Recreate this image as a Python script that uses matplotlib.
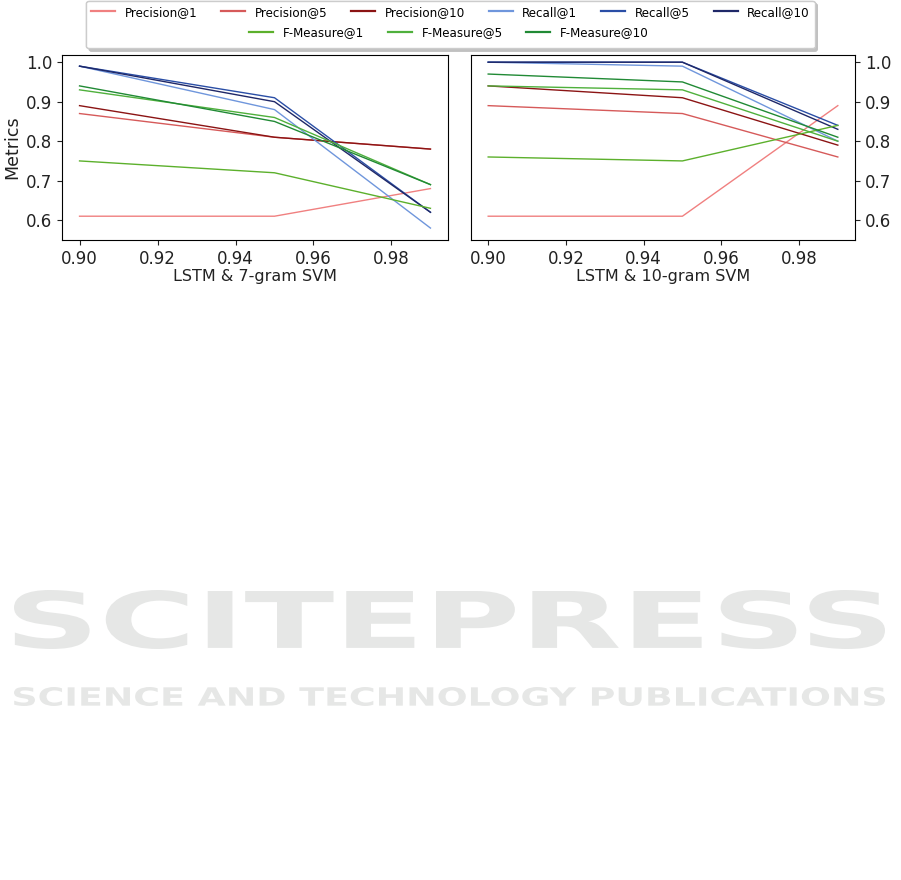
import matplotlib
matplotlib.use('Agg')
import matplotlib.pyplot as plt
from matplotlib.lines import Line2D
from matplotlib.textpath import TextPath
from matplotlib.patches import PathPatch
from matplotlib.font_manager import FontProperties
from matplotlib.transforms import Affine2D, IdentityTransform

# dados
thresholds = [0.90, 0.95, 0.99]
labels = ['Precision@1', 'Precision@5', 'Precision@10',
          'Recall@1', 'Recall@5', 'Recall@10',
          'F-Measure@1', 'F-Measure@5', 'F-Measure@10']
colors = ['#f08080', '#d65a5a', '#8b1414',
          '#6f96dc', '#2a4ea6', '#1f2868',
          '#5cb02c', '#4fb03c', '#218a35']

# LSTM & 7-gram SVM
svm7 = {
    'Precision@1': [0.61, 0.61, 0.68],
    'Precision@5': [0.87, 0.81, 0.78],
    'Precision@10': [0.89, 0.81, 0.78],
    'Recall@1': [0.99, 0.88, 0.58],
    'Recall@5': [0.99, 0.91, 0.62],
    'Recall@10': [0.99, 0.90, 0.62],
    'F-Measure@1': [0.75, 0.72, 0.63],
    'F-Measure@5': [0.93, 0.86, 0.69],
    'F-Measure@10': [0.94, 0.85, 0.69],
}

# LSTM & 10-gram SVM
svm10 = {
    'Precision@1': [0.61, 0.61, 0.89],
    'Precision@5': [0.89, 0.87, 0.76],
    'Precision@10': [0.94, 0.91, 0.79],
    'Recall@1': [1.00, 0.99, 0.80],
    'Recall@5': [1.00, 1.00, 0.84],
    'Recall@10': [1.00, 1.00, 0.83],
    'F-Measure@1': [0.76, 0.75, 0.84],
    'F-Measure@5': [0.94, 0.93, 0.80],
    'F-Measure@10': [0.97, 0.95, 0.81],
}

W, H = 901, 880
fig = plt.figure(figsize=(W / 100, H / 100), dpi=100)

ax1 = fig.add_axes([62 / W, 1 - 240.3 / H, 386 / W, 185.6 / H])
ax2 = fig.add_axes([470.7 / W, 1 - 240.3 / H, 384.6 / W, 185.6 / H])

for lab, col in zip(labels, colors):
    ax1.plot(thresholds, svm7[lab], color=col, linewidth=1.0, label=lab)
    ax2.plot(thresholds, svm10[lab], color=col, linewidth=1.0, label=lab)

for ax in (ax1, ax2):
    ax.set_ylim(0.549, 1.019)
    ax.set_yticks([0.6, 0.7, 0.8, 0.9, 1.0])
    ax.set_xticks([0.90, 0.92, 0.94, 0.96, 0.98])
    ax.tick_params(labelsize=12, colors='#222222')

ax1.set_xlabel('LSTM & 7-gram SVM', fontsize=11.5, labelpad=1, color='#222222')
ax2.set_xlabel('LSTM & 10-gram SVM', fontsize=11.5, labelpad=1, color='#222222')
ax1.set_ylabel('Metrics', fontsize=12.5, labelpad=3, color='#222222')
ax2.yaxis.tick_right()

# legenda: primeira linha com moldura, segunda linha centralizada por cima
handles = [Line2D([], [], color=c, linewidth=1.6) for c in colors]
blank = Line2D([], [], color='none')
order_h = [handles[0], blank, handles[1], blank, handles[2], blank,
           handles[3], handles[4], handles[5]]
order_l = [labels[0], ' ', labels[1], ' ', labels[2], ' ',
           labels[3], labels[4], labels[5]]
leg1 = fig.legend(order_h, order_l, ncol=6, loc='upper center',
                  bbox_to_anchor=(0.5, 0.999), fontsize=8.6, frameon=True,
                  fancybox=True, borderaxespad=0, labelspacing=1.0,
                  shadow={'color': '#c0c0c0', 'alpha': 0.8})
leg1.get_frame().set_edgecolor('#cccccc')
leg2 = fig.legend(handles[6:], labels[6:], ncol=3, loc='center',
                  bbox_to_anchor=(449 / W, 1 - 33 / H), fontsize=8.6,
                  frameon=False, borderaxespad=0)
fig.add_artist(leg1)

# marca d'agua
def watermark(text, x0, x1, ytop, ybot):
    tp = TextPath((0, 0), text, size=100,
                  prop=FontProperties(family='DejaVu Sans', weight='bold'))
    ext = tp.get_extents()
    sx = (x1 - x0) / ext.width
    sy = (ybot - ytop) / ext.height
    tr = (Affine2D().translate(-ext.x0, -ext.y0).scale(sx, sy)
          .translate(x0, H - ybot))
    fig.add_artist(PathPatch(tr.transform_path(tp), facecolor='#e6e7e6',
                             edgecolor='none', transform=IdentityTransform(),
                             zorder=-5))

watermark('SCITEPRESS', 14, 885, 590, 649)
watermark('SCIENCE AND TECHNOLOGY PUBLICATIONS', 14, 885, 687, 706)

fig.savefig('out.png', dpi=100)
